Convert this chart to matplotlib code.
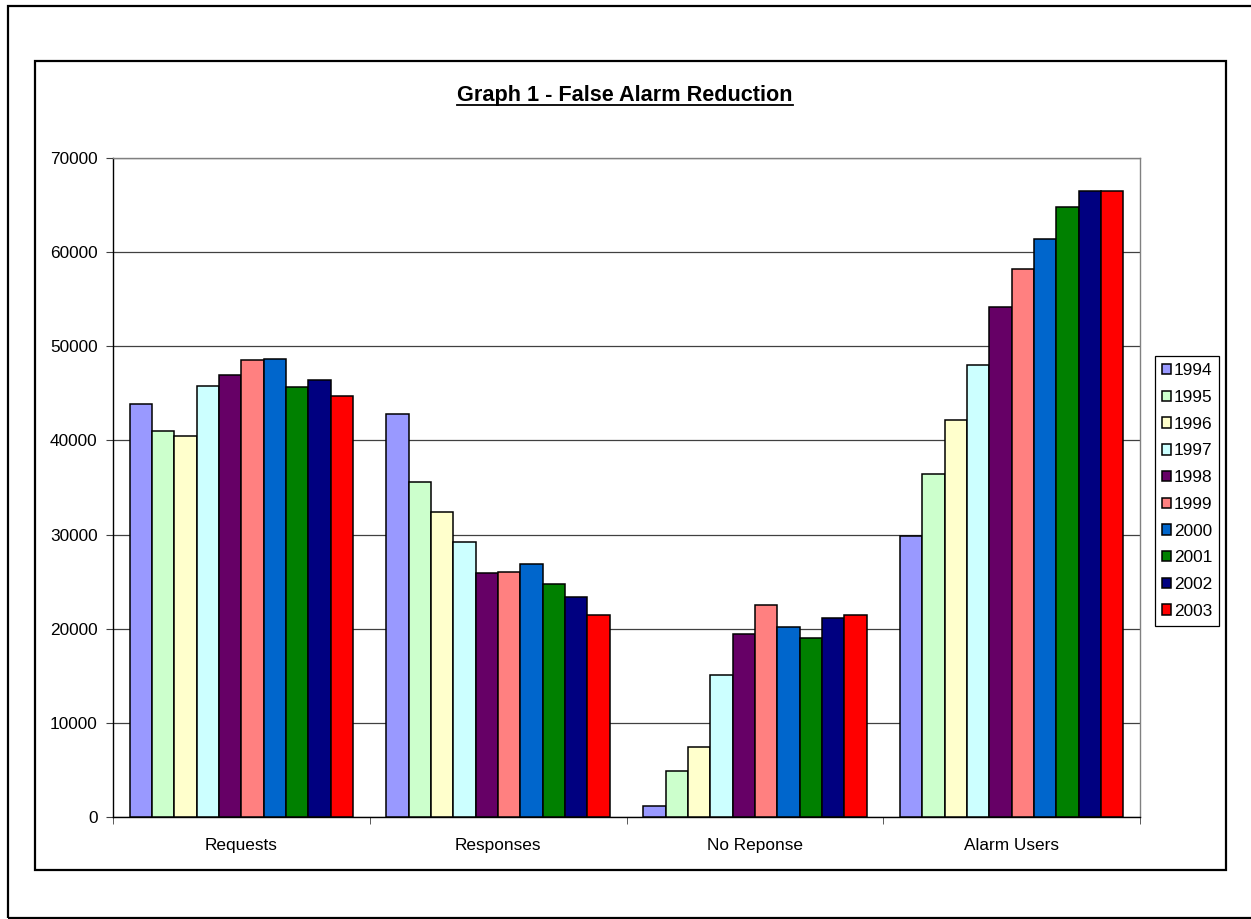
import matplotlib
matplotlib.use('Agg')
import matplotlib.pyplot as plt
from matplotlib.patches import Rectangle
from matplotlib.lines import Line2D
import numpy as np

plt.rcParams['font.family'] = ['Liberation Sans', 'DejaVu Sans']

# Data
categories = ['Requests', 'Responses', 'No Reponse', 'Alarm Users']
years = ['1994', '1995', '1996', '1997', '1998', '1999', '2000', '2001', '2002', '2003']
colors = ['#9999FF', '#CCFFCC', '#FFFFCC', '#CCFFFF', '#660066',
          '#FF8080', '#0066CC', '#008000', '#000080', '#FF0000']
requests = [43900, 41000, 40500, 45800, 46900, 48500, 48600, 45700, 46400, 44700]
responses = [42800, 35600, 32400, 29200, 25900, 26000, 26900, 24800, 23400, 21500]
no_response = [1200, 4900, 7400, 15100, 19400, 22500, 20200, 19000, 21100, 21500]
alarm_users = [29800, 36400, 42200, 48000, 54200, 58200, 61400, 64800, 66500, 66500]
yticks = [0, 10000, 20000, 30000, 40000, 50000, 60000, 70000]

values = np.array([requests, responses, no_response, alarm_users])

fig = plt.figure(figsize=(12.51, 9.19), dpi=100)

# frames around the chart
fig.add_artist(Rectangle((8/1251, 1/919), 1.2, (918-6)/919, transform=fig.transFigure,
                         fill=False, edgecolor='black', linewidth=1.6, clip_on=False))
fig.add_artist(Rectangle((35/1251, (919-870)/919), (1226-35)/1251, (870-61)/919,
                         transform=fig.transFigure, fill=False, edgecolor='black', linewidth=1.6))

ax = fig.add_axes([113/1251, (919-817)/919, (1140-113)/1251, (817-158)/919])

x = np.arange(len(categories))
w = 1/11.5
for j, yr in enumerate(years):
    ax.bar(x + (j - 4.5)*w, values[:, j], width=w, color=colors[j],
           edgecolor='black', linewidth=1.1, label=yr, zorder=3)

ax.set_xlim(-0.5, 3.5)
ax.set_ylim(0, 70000)
ax.set_yticks(yticks)
ax.set_yticklabels([str(v) for v in yticks], fontsize=12.4)
ax.yaxis.grid(True, color='#404040', linewidth=0.9, zorder=0)
ax.set_axisbelow(True)

ax.set_xticks(x)
ax.set_xticklabels(categories, fontsize=12.4)
ax.set_xticks(np.arange(-0.5, 4.0, 1.0), minor=True)
ax.tick_params(axis='x', which='major', length=0, pad=15)
ax.tick_params(axis='x', which='minor', length=5, direction='out', color='#404040')
ax.tick_params(axis='y', length=5, direction='out', pad=6, color='#404040')

for s in ['left', 'bottom']:
    ax.spines[s].set_color('black')
    ax.spines[s].set_linewidth(1.0)
for s in ['top', 'right']:
    ax.spines[s].set_color('#808080')
    ax.spines[s].set_linewidth(1.0)

leg = fig.legend(loc='center left', bbox_to_anchor=(1155/1251, 1 - 491/919),
                 fontsize=12.4, frameon=True, fancybox=False, edgecolor='black',
                 framealpha=1, handlelength=0.55, handleheight=0.55,
                 handletextpad=0.15, labelspacing=0.68, borderpad=0.4,
                 borderaxespad=0)
leg.get_frame().set_linewidth(0.9)

# title with underline
title = fig.text(625/1251, 1 - 101/919, 'Graph 1 - False Alarm Reduction',
                 ha='center', va='baseline', fontsize=15.6, fontweight='bold')
fig.canvas.draw()
bb = title.get_window_extent().transformed(fig.transFigure.inverted())
uy = 1 - 104.5/919
fig.add_artist(Line2D([bb.x0, bb.x1], [uy, uy], transform=fig.transFigure,
                      color='black', linewidth=1.3))

fig.savefig('out.png', dpi=100)
